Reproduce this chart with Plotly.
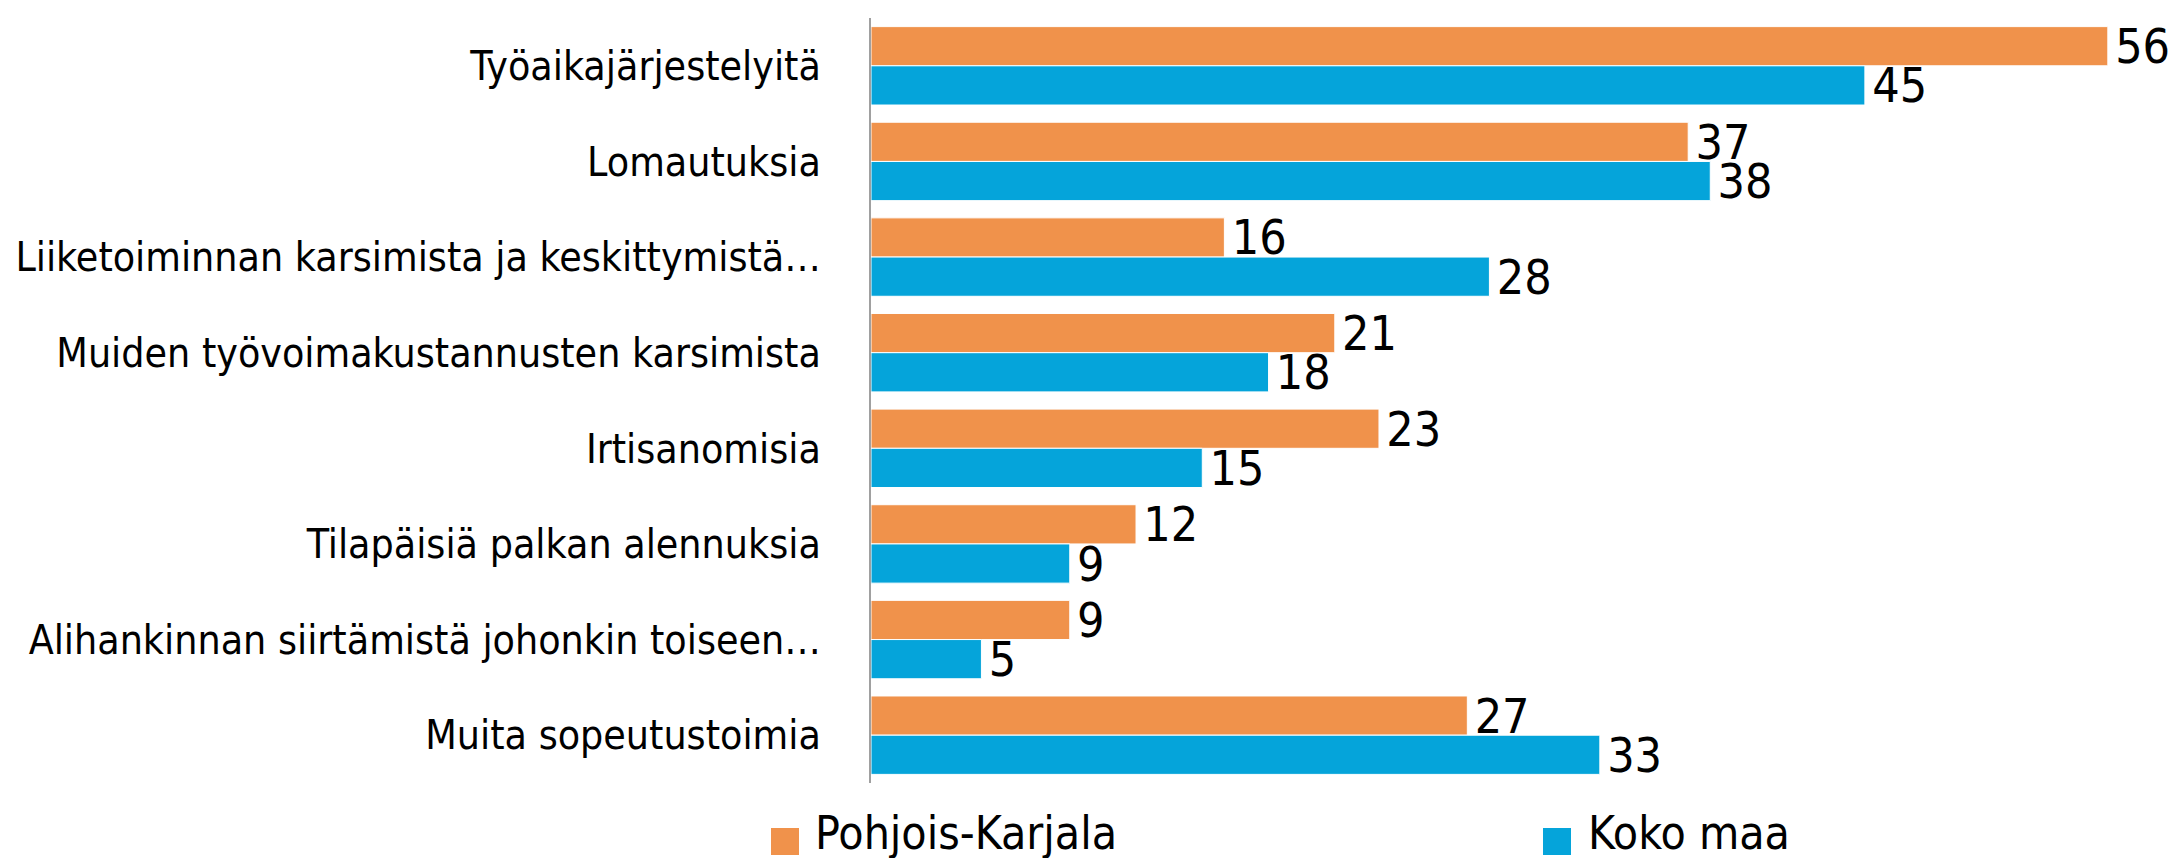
import plotly.graph_objects as go

categories = [
    "Työaikajärjestelyitä",
    "Lomautuksia",
    "Liiketoiminnan karsimista ja keskittymistä…",
    "Muiden työvoimakustannusten karsimista",
    "Irtisanomisia",
    "Tilapäisiä palkan alennuksia",
    "Alihankinnan siirtämistä johonkin toiseen…",
    "Muita sopeutustoimia",
]
series_names = ["Pohjois-Karjala", "Koko maa"]
pohjois_karjala = [56, 37, 16, 21, 23, 12, 9, 27]
koko_maa = [45, 38, 28, 18, 15, 9, 5, 33]
colors = ["#F0924B", "#05A4DA"]

FONT = "DejaVu Sans Condensed, sans-serif"

W, H = 2177, 858
ML, MR, MT, MB = 863, 33, 10, 83
PW, PH = W - ML - MR, H - MT - MB

def px_x(px):
    return (px - ML) / PW

def px_y(py):
    return (H - MB - py) / PH

fig = go.Figure()
for name, vals, col in zip(series_names, [pohjois_karjala, koko_maa], colors):
    fig.add_trace(go.Bar(
        y=categories, x=vals, orientation="h", name=name,
        marker=dict(color=col, line=dict(color="white", width=1)),
        text=vals, texttemplate="\u200a%{text}", textposition="outside",
        textfont=dict(family=FONT, size=48, color="black"),
        cliponaxis=False, constraintext="none", showlegend=False,
    ))

# manual legend (large square swatches like the reference)
legend_pos = [(763, 805), (1535, 1578)]
shapes, annotations = [], []
for name, col, (sx, tx) in zip(series_names, colors, legend_pos):
    shapes.append(dict(
        type="rect", xref="paper", yref="paper",
        x0=px_x(sx), x1=px_x(sx + 28), y0=px_y(847), y1=px_y(820),
        fillcolor=col, line=dict(width=0),
    ))
    annotations.append(dict(
        xref="paper", yref="paper", x=px_x(tx), y=px_y(825),
        xanchor="left", yanchor="middle", showarrow=False,
        text=name, font=dict(family=FONT, size=46, color="black"),
    ))

fig.update_layout(
    width=W, height=H,
    margin=dict(l=ML, r=MR, t=MT, b=MB, autoexpand=False),
    paper_bgcolor="white", plot_bgcolor="white",
    barmode="group", bargap=0.18, bargroupgap=0,
    font=dict(family=FONT, color="black"),
    showlegend=False,
    shapes=shapes, annotations=annotations,
)
fig.update_xaxes(range=[0, 58], visible=False, showgrid=False, zeroline=False)
fig.update_yaxes(
    autorange="reversed", showgrid=False, zeroline=False,
    showline=True, linecolor="#A0A0A0", linewidth=2,
    ticks="", ticklabelstandoff=40,
    tickfont=dict(family=FONT, size=40.7, color="black"),
)

fig.write_html("out.html")
